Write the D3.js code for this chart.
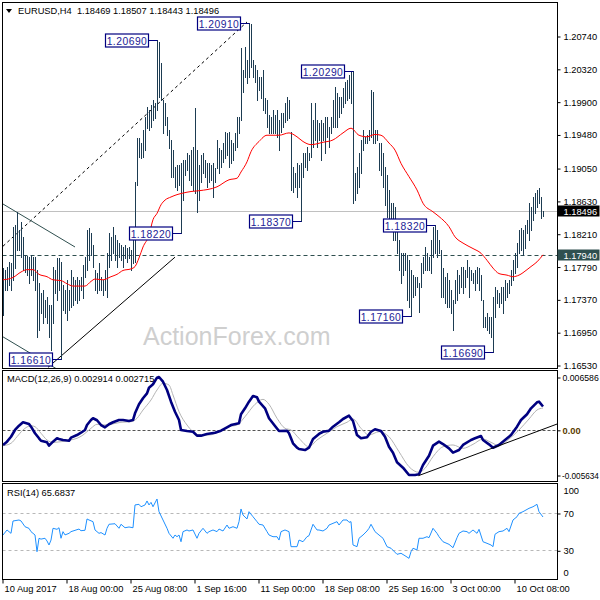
<!DOCTYPE html>
<html><head><meta charset="utf-8">
<script src="https://cdn.jsdelivr.net/npm/d3@7"></script>
<style>body{margin:0;background:#fff}svg{display:block}text{font-family:"Liberation Sans",Arial,sans-serif}</style>
</head><body><svg id="c" width="600" height="600"></svg>
<script>
// ---------------- DATA ----------------
const titleText = "EURUSD,H4  1.18469 1.18507 1.18443 1.18496";
const macdTitle = "MACD(12,26,9) 0.002914 0.002715";
const rsiTitle = "RSI(14) 65.6837";
const watermark = "ActionForex.com";

const barHighs = [
1.1777,1.1775,1.1778,1.1785,1.1784,1.1830,1.1832,1.1849,1.1826,1.1836,
1.1817,1.1794,1.1793,1.1791,1.1794,1.1791,1.1791,1.1775,1.1758,1.1745,
1.1749,1.1736,1.1740,1.1730,1.1730,1.1778,1.1775,1.1790,1.1790,1.1785,
1.1755,1.1749,1.1762,1.1749,1.1775,1.1766,1.1762,1.1766,1.1762,1.1766,
1.1781,1.1791,1.1826,1.1828,1.1822,1.1807,1.1775,1.1771,1.1784,1.1766,
1.1762,1.1775,1.1796,1.1822,1.1817,1.1830,1.1819,1.1813,1.1809,1.1807,
1.1804,1.1807,1.1803,1.1804,1.1800,1.1822,1.1887,1.1944,1.1944,1.1937,
1.1954,1.1970,1.1983,1.1979,1.1986,1.1992,1.1988,1.2069,1.2066,1.2040,
1.1992,1.1988,1.1970,1.1954,1.1941,1.1928,1.1906,1.1909,1.1909,1.1912,
1.1915,1.1915,1.1924,1.1922,1.1928,1.1932,1.1982,1.1928,1.1909,1.1922,
1.1924,1.1915,1.1912,1.1912,1.1909,1.1912,1.1905,1.1941,1.1931,1.1928,
1.1937,1.1951,1.1950,1.1951,1.1941,1.1937,1.1950,1.1970,1.1970,1.2059,
1.2031,1.2060,1.2043,1.2091,1.2089,1.2043,1.2037,1.2031,1.2022,1.2022,
1.2031,1.1995,1.1992,1.1973,1.1970,1.1979,1.1973,1.1979,1.1967,1.1976,
1.1976,1.1988,1.1996,1.1992,1.1951,1.1906,1.1899,1.1912,1.1909,1.1912,
1.1924,1.1924,1.1932,1.1924,1.1988,1.1967,1.1988,1.1967,1.1963,1.1967,
1.1963,1.1970,1.1970,1.1958,1.1970,1.1992,1.2009,1.2001,1.1996,1.1996,
1.2008,1.2015,1.2018,1.2024,1.2028,1.2029,1.1899,1.1906,1.1924,1.1941,
1.1954,1.1945,1.1947,1.1954,1.2005,1.2002,1.1954,1.1954,1.1937,1.1937,
1.1924,1.1906,1.1896,1.1877,1.1860,1.1860,1.1855,1.1830,1.1813,1.1796,
1.1796,1.1796,1.1794,1.1787,1.1775,1.1768,1.1766,1.1766,1.1758,1.1784,
1.1791,1.1804,1.1796,1.1791,1.1813,1.1830,1.1832,1.1826,1.1813,1.1800,
1.1777,1.1766,1.1771,1.1762,1.1749,1.1736,1.1762,1.1775,1.1768,1.1778,
1.1778,1.1775,1.1787,1.1778,1.1775,1.1771,1.1775,1.1778,1.1777,1.1768,
1.1736,1.1714,1.1720,1.1714,1.1714,1.1740,1.1753,1.1749,1.1745,1.1753,
1.1753,1.1762,1.1758,1.1762,1.1775,1.1787,1.1796,1.1809,1.1826,1.1828,
1.1826,1.1832,1.1839,1.1860,1.1855,1.1868,1.1873,1.1877,1.1880,1.1868,1.18507];

const barLows = [
1.1717,1.1749,1.1749,1.1755,1.1749,1.1762,1.1777,1.1800,1.1800,1.1791,
1.1775,1.1772,1.1768,1.1758,1.1768,1.1762,1.1749,1.1689,1.1698,1.1720,
1.1707,1.1714,1.1707,1.1689,1.1672,1.1707,1.1745,1.1736,1.1749,1.1661,
1.1723,1.1720,1.1711,1.1723,1.1727,1.1730,1.1736,1.1732,1.1736,1.1749,
1.1739,1.1766,1.1775,1.1787,1.1794,1.1778,1.1749,1.1745,1.1749,1.1749,
1.1743,1.1749,1.1740,1.1778,1.1787,1.1796,1.1787,1.1778,1.1791,1.1787,
1.1778,1.1790,1.1785,1.1790,1.1775,1.1784,1.1785,1.1883,1.1919,1.1918,
1.1919,1.1928,1.1956,1.1954,1.1958,1.1967,1.1969,1.1979,1.1996,1.1992,
1.1950,1.1960,1.1947,1.1931,1.1894,1.1894,1.1881,1.1877,1.1883,1.1822,
1.1864,1.1896,1.1903,1.1890,1.1883,1.1877,1.1873,1.1849,1.1864,1.1887,
1.1899,1.1894,1.1881,1.1887,1.1890,1.1868,1.1887,1.1905,1.1899,1.1906,
1.1913,1.1918,1.1922,1.1906,1.1912,1.1915,1.1928,1.1932,1.1950,1.1967,
1.2002,1.2022,1.2014,1.2022,1.2034,1.2022,1.2015,1.1992,1.2005,1.1995,
1.1979,1.1976,1.1958,1.1950,1.1950,1.1950,1.1950,1.1945,1.1928,1.1951,
1.1958,1.1964,1.1967,1.1969,1.1877,1.1874,1.1881,1.1868,1.1881,1.1837,
1.1894,1.1906,1.1903,1.1915,1.1919,1.1932,1.1941,1.1932,1.1941,1.1915,
1.1941,1.1924,1.1945,1.1932,1.1950,1.1958,1.1958,1.1958,1.1970,1.1976,
1.1983,1.1988,1.1992,1.1995,1.1988,1.1860,1.1864,1.1873,1.1881,1.1899,
1.1928,1.1937,1.1937,1.1941,1.1945,1.1937,1.1937,1.1941,1.1903,1.1896,
1.1881,1.1858,1.1842,1.1832,1.1830,1.1813,1.1813,1.1796,1.1775,1.1758,
1.1768,1.1775,1.1736,1.1727,1.1716,1.1740,1.1743,1.1753,1.1721,1.1753,
1.1771,1.1775,1.1775,1.1775,1.1771,1.1791,1.1796,1.1791,1.1796,1.1740,
1.1740,1.1732,1.1727,1.1727,1.1720,1.1698,1.1732,1.1736,1.1745,1.1753,
1.1745,1.1753,1.1766,1.1740,1.1762,1.1758,1.1749,1.1758,1.1749,1.1736,
1.1702,1.1702,1.1698,1.1694,1.1689,1.1669,1.1714,1.1732,1.1727,1.1732,
1.1720,1.1736,1.1740,1.1745,1.1755,1.1762,1.1771,1.1778,1.1796,1.1800,
1.1794,1.1803,1.1822,1.1813,1.1826,1.1839,1.1848,1.1855,1.1860,1.1841,1.18443];

const maPoints = [[0,1.1762],[5,1.1765],[9,1.1772],[12,1.1775],[15,1.1775],[18,1.1769],[22,1.1766],[25,1.1762],[29,1.1761],[32,1.1757],[35,1.1754],[41,1.1754],[44,1.1760],[46,1.1763],[50,1.1762],[54,1.1766],[57,1.1769],[60,1.1774],[64,1.1776],[66,1.1779],[68,1.1790],[70,1.1804],[73,1.1819],[75,1.1839],[77,1.1847],[79,1.1858],[81,1.1864],[84,1.1868],[87,1.1871],[90,1.1873],[94,1.1875],[98,1.1876],[107,1.1881],[113,1.1890],[117,1.1892],[119,1.1900],[122,1.1913],[124,1.1926],[128,1.1939],[132,1.1947],[138,1.1947],[143,1.1950],[147,1.1945],[150,1.1939],[154,1.1935],[160,1.1938],[165,1.1941],[170,1.1950],[174,1.1956],[178,1.1947],[182,1.1945],[186,1.1948],[189,1.1947],[193,1.1937],[196,1.1928],[199,1.1911],[203,1.1894],[207,1.1877],[210,1.1860],[215,1.1849],[218,1.1843],[223,1.1830],[226,1.1817],[230,1.1809],[235,1.1802],[239,1.1796],[242,1.1787],[245,1.1777],[248,1.1770],[252,1.1768],[255,1.1766],[258,1.1768],[262,1.1775],[264,1.1779],[267,1.1785],[270,1.1794]];

const pivotIdx = [29, 77, 89, 123, 149, 175, 204, 216, 245];
const pivotPrices = [1.1661, 1.2069, 1.1822, 1.2091, 1.1837, 1.2029, 1.1716, 1.1832, 1.1669];
const pivotLabels = ["1.16610","1.20690","1.18220","1.20910","1.18370","1.20290","1.17160","1.18320","1.16690"];

const trendLines = [
  [[0, 1.1805], [122, 1.2092]],
  [[0, 1.1859], [36, 1.1804]],
  [[0, 1.1689], [36, 1.1634]],
  [[22.5, 1.1650], [86, 1.1791]]
];
const lastPrice = 1.18496;
const levelPrice = 1.17940;
const mainTickVals = [1.20740,1.20320,1.19900,1.19480,1.19050,1.18630,1.18210,1.17790,1.17370,1.16950,1.16530];

const macdPoints = [[0,-0.00189],[2,-0.00148],[4,-0.00086],[6,-0.00002],[8,0.00051],[10,0.00094],[13,0.00073],[14,0.00039],[16,-0.00043],[18,-0.00106],[19,-0.00136],[22,-0.00156],[23,-0.00198],[25,-0.00148],[27,-0.00106],[28,-0.00115],[30,-0.00127],[33,-0.00136],[34,-0.00098],[37,-0.00065],[39,-0.00036],[41,-0.00002],[42,0.0006],[44,0.00122],[45,0.00144],[47,0.00119],[49,0.0006],[51,0.00031],[53,0.00069],[55,0.00094],[58,0.00122],[60,0.00122],[63,0.0011],[65,0.00122],[66,0.00206],[68,0.00318],[70,0.00393],[72,0.00455],[73,0.00525],[75,0.00568],[77,0.0065],[78,0.006586],[80,0.006],[82,0.00497],[84,0.00351],[86,0.00226],[88,0.00122],[89,-0.00002],[92,-0.00015],[95,-0.00024],[97,-0.00073],[99,-0.00073],[102,-0.00052],[106,-0.00036],[109,-0.00011],[112,0.00031],[114,0.0006],[118,0.00081],[119,0.00194],[121,0.00268],[123,0.00351],[125,0.00422],[127,0.00405],[128,0.00351],[131,0.00268],[133,0.00144],[136,0.00048],[138,-0.00015],[142,-0.00011],[143,-0.00043],[145,-0.00168],[147,-0.00223],[148,-0.00239],[151,-0.00252],[153,-0.00223],[155,-0.00115],[158,-0.00052],[160,-0.00024],[163,-0.00011],[165,0.00039],[168,0.00094],[170,0.00135],[173,0.00176],[175,0.0011],[177,-0.00065],[179,-0.00106],[182,-0.00093],[184,-0.00024],[186,0.00007],[189,-0.00015],[191,-0.00086],[193,-0.00211],[195,-0.00285],[197,-0.00405],[200,-0.00472],[203,-0.005634],[206,-0.005634],[208,-0.00555],[210,-0.00439],[213,-0.00323],[215,-0.00198],[218,-0.00148],[220,-0.00177],[223,-0.00231],[225,-0.00285],[228,-0.00252],[230,-0.00189],[234,-0.00127],[236,-0.00106],[239,-0.00077],[240,-0.00127],[243,-0.00181],[245,-0.00223],[248,-0.00189],[251,-0.00127],[254,-0.00065],[257,0.00039],[259,0.00122],[262,0.00194],[264,0.00268],[267,0.00343],[268,0.00351],[270,0.00291]];

const signalPoints = [[0,-0.00198],[4,-0.00168],[7,-0.00086],[10,-0.00002],[14,0.00051],[16,0.00039],[19,-0.00043],[22,-0.00127],[25,-0.00156],[29,-0.00148],[33,-0.0013],[37,-0.00106],[40,-0.00065],[44,0.00019],[47,0.00069],[50,0.0006],[54,0.00069],[59,0.00094],[64,0.00101],[67,0.00144],[70,0.00247],[74,0.00372],[77,0.00497],[80,0.0058],[83,0.00559],[85,0.00434],[88,0.00226],[92,0.0006],[95,-0.00024],[98,-0.00065],[103,-0.00065],[108,-0.00024],[113,0.00039],[117,0.0006],[121,0.00164],[126,0.00318],[130,0.0038],[133,0.00318],[137,0.00144],[141,0.00019],[144,-0.00002],[148,-0.00106],[153,-0.00211],[157,-0.00127],[162,-0.00043],[167,0.00039],[172,0.00094],[175,0.00135],[179,0.00019],[183,-0.00065],[188,-0.00024],[193,-0.00086],[198,-0.00273],[203,-0.0046],[208,-0.0053],[211,-0.0048],[215,-0.00335],[220,-0.00211],[225,-0.00189],[230,-0.00231],[235,-0.00181],[240,-0.00115],[244,-0.00156],[248,-0.00198],[253,-0.00115],[258,-0.00002],[263,0.00135],[267,0.00247],[270,0.00272]];

const macdTrend = [[207.7, -0.00572], [278, 0.00081]];
const macdTickVals = [0.006586, 0, -0.005634];
const macdTickLabels = ["0.006586", "0.00", "-0.005634"];

const rsiPoints = [[0,46.4],[2,51.8],[4,48.2],[5,61.4],[8,62.5],[9,61.5],[11,55.3],[13,53.5],[14,50],[16,46.4],[17,28.5],[18,42.9],[19,42],[21,42.9],[22,40],[23,35.7],[24,41],[25,53.6],[27,52.5],[28,54.2],[29,42.9],[30,50],[31,46.5],[33,48.2],[34,50],[38,52.8],[39,51],[41,51.5],[42,63.6],[43,62.5],[45,60.7],[46,51.8],[48,48.2],[49,49],[51,46.4],[52,53.6],[53,57.9],[56,58.5],[58,53.6],[59,57.9],[61,54.2],[63,55],[65,54.2],[66,78.6],[68,79.3],[69,76.7],[71,78.6],[72,82.9],[73,78.6],[74,81.4],[75,76.7],[77,85],[78,71.4],[80,62.5],[82,53.6],[83,48.2],[85,42.9],[86,46.4],[87,44.6],[88,46.4],[89,39.2],[90,50],[92,51.8],[93,50.7],[95,51.8],[97,42.9],[98,48.2],[100,53.6],[102,48.2],[103,50],[105,51.8],[107,50],[108,52.8],[110,50.7],[112,57.1],[113,53.6],[115,55.3],[117,53.6],[118,60.7],[119,74.3],[120,67.8],[122,63.6],[123,71.4],[125,66],[127,60.7],[128,57.9],[130,57.1],[132,50],[133,46.4],[135,44.6],[137,44.6],[138,41],[139,50],[141,51.8],[143,50],[144,33.9],[147,33.9],[148,41],[150,39.2],[152,44.6],[153,45.7],[155,57.9],[157,51.8],[158,51.8],[160,50.7],[162,53.6],[163,57.1],[165,58.9],[167,60.7],[168,57.1],[170,62.5],[172,62.5],[173,60],[174,60.7],[175,35.7],[177,33.9],[178,42.9],[180,46.4],[182,50.7],[183,53.6],[184,57.9],[186,50],[188,46.4],[190,42.9],[192,33.9],[194,32.2],[197,25.7],[199,26.8],[201,24.2],[203,21.4],[204,28.5],[205,32.2],[207,30.4],[208,42.9],[210,42.9],[212,44.6],[213,43.5],[215,53.6],[217,48.2],[218,44.6],[220,39.2],[223,36.4],[225,32.8],[227,43.5],[228,48.2],[230,50.7],[232,50],[233,48.2],[235,51.8],[237,48.2],[238,52.5],[240,39.2],[242,37.5],[244,35.7],[245,33.9],[246,47.2],[248,50],[250,50.7],[252,53.6],[253,50],[255,62.5],[257,66],[258,69.6],[260,71.4],[263,75],[265,76.7],[267,79.3],[268,71.4],[270,65.7]];
const rsiLevels = [70, 30];
const rsiTickVals = [100, 70, 30, 0];

const xTickIdx = [0, 32, 64, 96, 128, 160, 192, 224, 256];
const xTickLabels = ["10 Aug 2017","18 Aug 00:00","25 Aug 08:00","1 Sep 16:00","11 Sep 00:00","18 Sep 08:00","25 Sep 16:00","3 Oct 00:00","10 Oct 08:00"];

// ---------------- LAYOUT ----------------
const L = 2.5, R = 557.5;
const P = {main:[2.5, 368.5], macd:[370.5, 481.5], rsi:[483.5, 579.5]};
const FS = "9.3px";
const svg = d3.select("#c");
const x = d3.scaleLinear().domain([0, 270]).range([3, 543]);
const yM = d3.scaleLinear().domain([1.16530, 1.20740]).range([365, 36]);
const yD = d3.scaleLinear().domain([-0.005634, 0.006586]).range([475, 377]);
const yR = d3.scaleLinear().domain([0, 100]).range([578.3, 485]);

const defs = svg.append("defs");
Object.entries(P).forEach(([k, [t, b]]) => {
  defs.append("clipPath").attr("id", "clip-" + k)
    .append("rect").attr("x", L).attr("y", t).attr("width", R - L).attr("height", b - t);
});

// ---------- main panel ----------
const gm = svg.append("g").attr("clip-path", "url(#clip-main)");
gm.append("text").attr("x", 143).attr("y", 345).attr("font-size", "25px")
  .attr("fill", "#cfcfcf").text(watermark);

gm.append("line").attr("x1", L).attr("x2", R).attr("y1", Math.round(yM(lastPrice)) + 0.5).attr("y2", Math.round(yM(lastPrice)) + 0.5)
  .attr("stroke", "#c0c0c0");
gm.append("line").attr("x1", L).attr("x2", R).attr("y1", Math.round(yM(levelPrice)) + 0.5).attr("y2", Math.round(yM(levelPrice)) + 0.5)
  .attr("stroke", "#2f4f4f").attr("stroke-dasharray", "4,3");

const trendStyles = [
  {c: "#000", d: "3,3"}, {c: "#2f4f4f", d: null}, {c: "#2f4f4f", d: null}, {c: "#000", d: null}
];
trendLines.forEach((t, k) => {
  gm.append("line").attr("x1", x(t[0][0])).attr("y1", yM(t[0][1]))
    .attr("x2", x(t[1][0])).attr("y2", yM(t[1][1]))
    .attr("stroke", trendStyles[k].c).attr("stroke-width", 1)
    .attr("stroke-dasharray", trendStyles[k].d);
});

gm.append("g").selectAll("line").data(barHighs).join("line")
  .attr("x1", (d, i) => Math.round(x(i)) + 0.5).attr("x2", (d, i) => Math.round(x(i)) + 0.5)
  .attr("y1", d => Math.round(yM(d))).attr("y2", (d, i) => Math.round(yM(barLows[i])) + 1)
  .attr("stroke", "#1d3c52").attr("stroke-width", 1).attr("shape-rendering", "crispEdges");

gm.append("path").datum(maPoints)
  .attr("d", d3.line().x(d => x(d[0])).y(d => yM(d[1])).curve(d3.curveMonotoneX))
  .attr("fill", "none").attr("stroke", "#ff0000").attr("stroke-width", 1);

// pivot labels
pivotIdx.forEach((bi, k) => {
  const bx = Math.round(x(bi)) + 0.5, py = Math.round(yM(pivotPrices[k])) + 0.5;
  const bw = 43, bh = 13, rx = bx - 9;
  gm.append("line").attr("x1", rx).attr("x2", bx).attr("y1", py).attr("y2", py).attr("stroke", "#000080");
  gm.append("rect").attr("x", rx - bw).attr("y", py - bh / 2).attr("width", bw).attr("height", bh)
    .attr("fill", "#fff").attr("stroke", "#000080").attr("stroke-width", 1.2);
  gm.append("text").attr("x", rx - bw / 2).attr("y", py + 4).attr("text-anchor", "middle")
    .attr("font-size", "10.3px").attr("letter-spacing", "0.5px").attr("fill", "#1c1c96").text(pivotLabels[k]);
});

// header
svg.append("path").attr("d", "M6,9L12,9L9,13Z").attr("fill", "#000");
svg.append("text").attr("x", 18).attr("y", 14).attr("font-size", FS)
  .style("white-space", "pre").text(titleText);

// ---------- MACD panel ----------
const gd = svg.append("g").attr("clip-path", "url(#clip-macd)");
gd.append("line").attr("x1", L).attr("x2", R).attr("y1", Math.round(yD(0)) + 0.5).attr("y2", Math.round(yD(0)) + 0.5)
  .attr("stroke", "#555").attr("stroke-dasharray", "3,2");
gd.append("path").datum(signalPoints)
  .attr("d", d3.line().x(d => x(d[0])).y(d => yD(d[1])).curve(d3.curveMonotoneX))
  .attr("fill", "none").attr("stroke", "#b4b4b4").attr("stroke-width", 1);
gd.append("path").datum(macdPoints)
  .attr("d", d3.line().x(d => x(d[0])).y(d => yD(d[1])))
  .attr("fill", "none").attr("stroke", "#000080").attr("stroke-width", 2.6).attr("stroke-linejoin", "round");
gd.append("line").attr("x1", x(macdTrend[0][0])).attr("y1", yD(macdTrend[0][1]))
  .attr("x2", x(macdTrend[1][0])).attr("y2", yD(macdTrend[1][1])).attr("stroke", "#000");
svg.append("text").attr("x", 7).attr("y", 382).attr("font-size", FS).text(macdTitle);

// ---------- RSI panel ----------
const gr = svg.append("g").attr("clip-path", "url(#clip-rsi)");
rsiLevels.forEach(v => {
  gr.append("line").attr("x1", L).attr("x2", R).attr("y1", Math.round(yR(v)) + 0.5).attr("y2", Math.round(yR(v)) + 0.5)
    .attr("stroke", "#b8b8b8").attr("stroke-dasharray", "3,3");
});
gr.append("path").datum(rsiPoints)
  .attr("d", d3.line().x(d => x(d[0])).y(d => yR(d[1])))
  .attr("fill", "none").attr("stroke", "#1e90ff").attr("stroke-width", 1);
svg.append("text").attr("x", 7).attr("y", 496).attr("font-size", FS).text(rsiTitle);

// ---------- frames ----------
Object.values(P).forEach(([t, b]) => {
  svg.append("rect").attr("x", L).attr("y", t).attr("width", R - L).attr("height", b - t)
    .attr("fill", "none").attr("stroke", "#000").attr("stroke-width", 1);
});

// ---------- axes ----------
function styleAxis(g, fs) {
  g.select(".domain").remove();
  g.selectAll("text").attr("font-size", fs || FS).attr("fill", "#000")
    .attr("font-family", '"Liberation Sans",Arial,sans-serif');
  g.selectAll("line").attr("stroke", "#000");
}
const axM = svg.append("g").attr("transform", `translate(${R},0.5)`)
  .call(d3.axisRight(yM).tickValues(mainTickVals).tickSize(3).tickPadding(3).tickFormat(d3.format(".5f")));
styleAxis(axM);

// price tags
function tag(val, bg) {
  const yy = Math.round(yM(val)) + 0.5;
  svg.append("rect").attr("x", R).attr("y", yy - 6).attr("width", 42).attr("height", 11).attr("fill", bg);
  svg.append("text").attr("x", R + 6).attr("y", yy + 3.5).attr("font-size", FS).attr("fill", "#fff")
    .text(d3.format(".5f")(val));
}
tag(lastPrice, "#000");
tag(levelPrice, "#2f4f4f");

const axD = svg.append("g").attr("transform", `translate(${R},0.5)`)
  .call(d3.axisRight(yD).tickValues(macdTickVals).tickSize(3).tickPadding(2)
    .tickFormat((d, i) => macdTickLabels[i]));
styleAxis(axD, "8.7px");
axD.selectAll(".tick").filter(d => d === 0).select("text").attr("fill", "#5a3c00").attr("font-weight", "bold").attr("font-size", FS);
axD.selectAll(".tick").filter(d => d < 0).select("text").attr("font-size", "8.2px").attr("x", 4.5);

const axR = svg.append("g").attr("transform", `translate(${R},0.5)`)
  .call(d3.axisRight(yR).tickValues(rsiTickVals).tickSize(3).tickPadding(3).tickFormat(d3.format("d")));
styleAxis(axR);
axR.selectAll(".tick").filter(d => d === 100).select("text").attr("dy", "0.9em");
axR.selectAll(".tick").filter(d => d === 0).select("text").attr("dy", "-0.35em");
axR.selectAll(".tick").filter(d => d === 100 || d === 0).select("line").remove();

const axX = svg.append("g").attr("transform", `translate(0,${P.rsi[1]})`)
  .call(d3.axisBottom(x).tickValues(xTickIdx).tickSize(4).tickPadding(2)
    .tickFormat((d, i) => xTickLabels[i]));
styleAxis(axX);
axX.selectAll("text").attr("text-anchor", "start").attr("dx", "1px");
axX.selectAll(".tick line").attr("transform", "translate(-0.5,0)");
</script></body></html>
